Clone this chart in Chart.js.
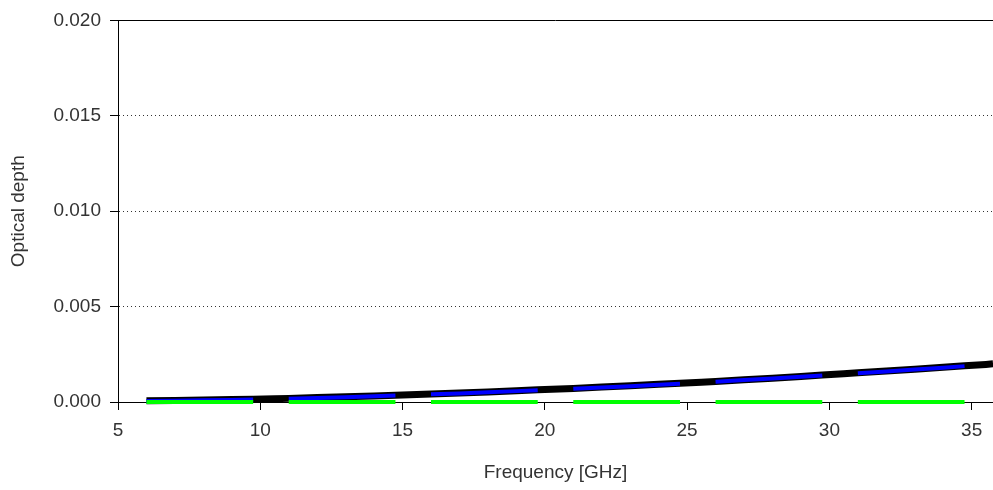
<!DOCTYPE html>
<html>
<head>
<meta charset="utf-8">
<title>Optical depth</title>
<script src="https://cdn.jsdelivr.net/npm/chart.js@4/dist/chart.umd.min.js"></script>
<style>
  html, body { margin: 0; padding: 0; background: #fff; }
  #chart { display: block; }
</style>
</head>
<body>
<canvas id="chart" width="993" height="490"></canvas>
<script>
// Frequency samples [GHz]; null entries in the band series split them into segments
const freq = [6, 7, 8, 9, 9.75, 10.5, 11, 12, 13, 14, 14.75, 15.5, 16, 17, 18, 19, 19.75, 20.5,
  21, 22, 23, 24, 24.75, 25.5, 26, 27, 28, 29, 29.75, 30.5, 31, 32, 33, 34, 34.75, 35.5, 35.75, 36];

// total optical depth (black)
const tauTotal = [0.00006, 0.00008, 0.0001, 0.00013, 0.00015, 0.00017, 0.00019, 0.00023, 0.00027,
  0.00032, 0.00036, 0.00039, 0.00042, 0.00047, 0.00053, 0.00059, 0.00064, 0.00068, 0.00071,
  0.00078, 0.00085, 0.00093, 0.00098, 0.00104, 0.00108, 0.00117, 0.00125, 0.00134, 0.00141,
  0.00148, 0.00153, 0.00162, 0.00172, 0.00182, 0.0019, 0.00197, 0.002, 0.00203];

// band contributions (blue)
const tauBand = [0.00005, 0.00007, 0.00009, 0.00011, 0.00013, null, 0.00017, 0.00021, 0.00025,
  0.0003, 0.00034, null, 0.0004, 0.00045, 0.00051, 0.00057, 0.00062, null, 0.00069,
  0.00076, 0.00083, 0.00091, 0.00096, null, 0.00106, 0.00115, 0.00123, 0.00132, 0.00139,
  null, 0.00151, 0.0016, 0.0017, 0.0018, 0.00188, null, 0.00198, 0.00201];

// residual (green)
const tauResid = [0, 0, 0, 0, 0, null, 0, 0, 0, 0, 0, null, 0, 0, 0, 0, 0, null, 0,
  0, 0, 0, 0, null, 0, 0, 0, 0, 0, null, 0, 0, 0, 0, 0, null, 0, 0];

const xTicks = [5, 10, 15, 20, 25, 30, 35];
const yTicks = [0, 0.005, 0.01, 0.015, 0.02];

const pts = (ys) => freq.map((f, i) => ({ x: f, y: ys[i] }));

const FONT = "'Liberation Sans', Arial, sans-serif";
Chart.defaults.font.family = FONT;
Chart.defaults.font.size = 19;
Chart.defaults.color = "#333";

// solid frame line along the top of the plot area
const topFrame = {
  id: "topFrame",
  beforeDatasetsDraw(chart) {
    const { ctx, chartArea: a } = chart;
    ctx.save();
    ctx.strokeStyle = "#000";
    ctx.lineWidth = 1;
    ctx.beginPath();
    ctx.moveTo(a.left, Math.round(a.top) + 0.5);
    ctx.lineTo(a.right, Math.round(a.top) + 0.5);
    ctx.stroke();
    ctx.restore();
  },
};

// keep the right edge of the plot free of clipping on x, but cut at chart area horizontally
const clipX = { left: 0, right: 0, top: 10, bottom: 10 };

new Chart(document.getElementById("chart"), {
  type: "line",
  data: {
    datasets: [
      {
        data: pts(tauResid),
        borderColor: "#00ff00",
        borderWidth: 4,
        pointRadius: 0,
        spanGaps: false,
        clip: clipX,
      },
      {
        data: pts(tauBand),
        borderColor: "#0000ff",
        borderWidth: 4,
        pointRadius: 0,
        spanGaps: false,
        clip: clipX,
      },
      {
        data: pts(tauTotal),
        borderColor: "#000000",
        borderWidth: 7,
        pointRadius: 0,
        clip: clipX,
      },
    ],
  },
  options: {
    responsive: false,
    animation: false,
    layout: { padding: { top: 16, right: 0, left: 0, bottom: 0 } },
    plugins: { legend: { display: false }, tooltip: { enabled: false } },
    elements: { line: { tension: 0, borderCapStyle: "butt", borderJoinStyle: "round" } },
    scales: {
      x: {
        type: "linear",
        min: 5,
        max: 35.75,
        afterBuildTicks: (s) => { s.ticks = xTicks.map((v) => ({ value: v })); },
        afterFit: (s) => { s.height = 88; },
        ticks: { padding: 9, maxRotation: 0, callback: (v) => String(v) },
        grid: { drawOnChartArea: false, drawTicks: true, tickLength: 8, tickColor: "#000", tickWidth: 1 },
        border: { color: "#000", width: 1 },
        title: { display: true, text: "Frequency [GHz]", padding: { top: 0, bottom: 6 } },
      },
      y: {
        min: 0,
        max: 0.02,
        afterBuildTicks: (s) => { s.ticks = yTicks.map((v) => ({ value: v })); },
        afterFit: (s) => { s.width = 118; },
        ticks: { padding: 9, callback: (v) => v.toFixed(3) },
        grid: {
          color: (c) => (c.tick && (c.tick.value === 0 || c.tick.value === 0.02) ? "rgba(0,0,0,0)" : "#333"),
          lineWidth: 1,
          tickLength: 8,
          tickColor: "#000",
          tickWidth: 1,
          tickBorderDash: [],
        },
        border: { color: "#000", width: 1, dash: [1, 3] },
        title: { display: true, text: "Optical depth", padding: { top: 7, bottom: 0 } },
      },
    },
  },
  plugins: [topFrame],
});
</script>
</body>
</html>
